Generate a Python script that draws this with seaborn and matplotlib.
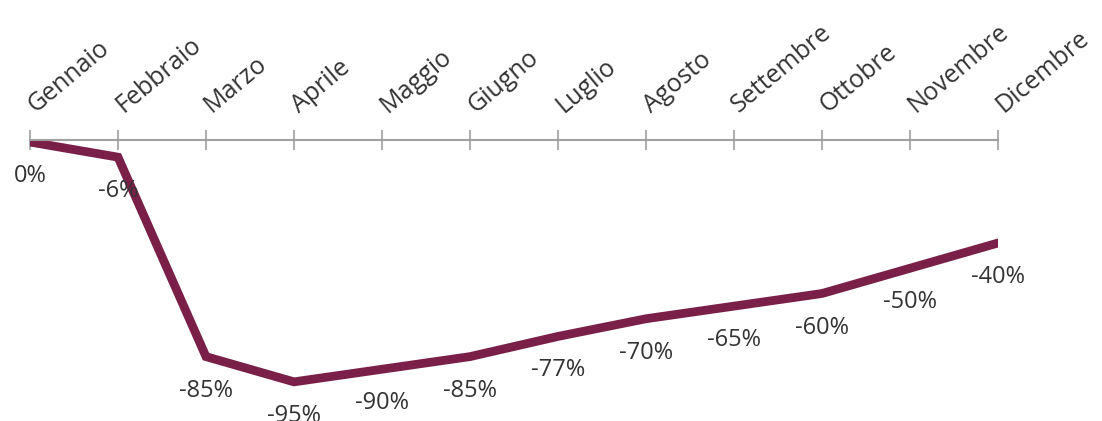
import pandas as pd
import seaborn as sns
import matplotlib.pyplot as plt
import matplotlib.transforms as mtrans

mesi = ["Gennaio", "Febbraio", "Marzo", "Aprile", "Maggio", "Giugno",
        "Luglio", "Agosto", "Settembre", "Ottobre", "Novembre", "Dicembre"]
variazione = [0, -6, -85, -95, -90, -85, -77, -70, -65, -60, -50, -40]

df = pd.DataFrame({"pos": range(len(mesi)), "val": variazione})

sns.set_style("white")
plt.rcParams['font.family'] = ['Open Sans', 'DejaVu Sans']

fig = plt.figure(figsize=(11.02, 4.21), dpi=100)
ax = fig.add_axes([30 / 1102, 0, 968 / 1102, 281 / 421])

sns.lineplot(data=df, x="pos", y="val", color="#7a2048", linewidth=6.3,
             solid_joinstyle="miter", ax=ax)

ax.set_xlim(0, 11)
ax.set_ylim(-110.5, 0.8)

for x, v in zip(df["pos"], df["val"]):
    ax.annotate(f"{v}%", (x, v), xytext=(0, -34), textcoords="offset pixels",
                ha="center", va="center", fontsize=17, color="#333333")

for s in ["right", "bottom", "left"]:
    ax.spines[s].set_visible(False)
ax.spines["top"].set_color("#a0a0a0")
ax.spines["top"].set_linewidth(1.5)

ax.xaxis.tick_top()
ax.set_xticks(df["pos"])
ax.set_xticklabels(mesi, rotation=40, ha="left", va="bottom",
                   rotation_mode="anchor", fontsize=18, color="#333333")
ax.tick_params(axis="x", direction="inout", length=14, width=1.2,
               color="#a0a0a0", pad=9)
# nudge the rotated labels so they start right at the tick
shift = mtrans.ScaledTranslation(9 / 100, 0, fig.dpi_scale_trans)
for lab in ax.get_xticklabels():
    lab.set_transform(lab.get_transform() + shift)
ax.set_yticks([])
ax.set_xlabel("")
ax.set_ylabel("")

fig.savefig("out.png", dpi=100)
